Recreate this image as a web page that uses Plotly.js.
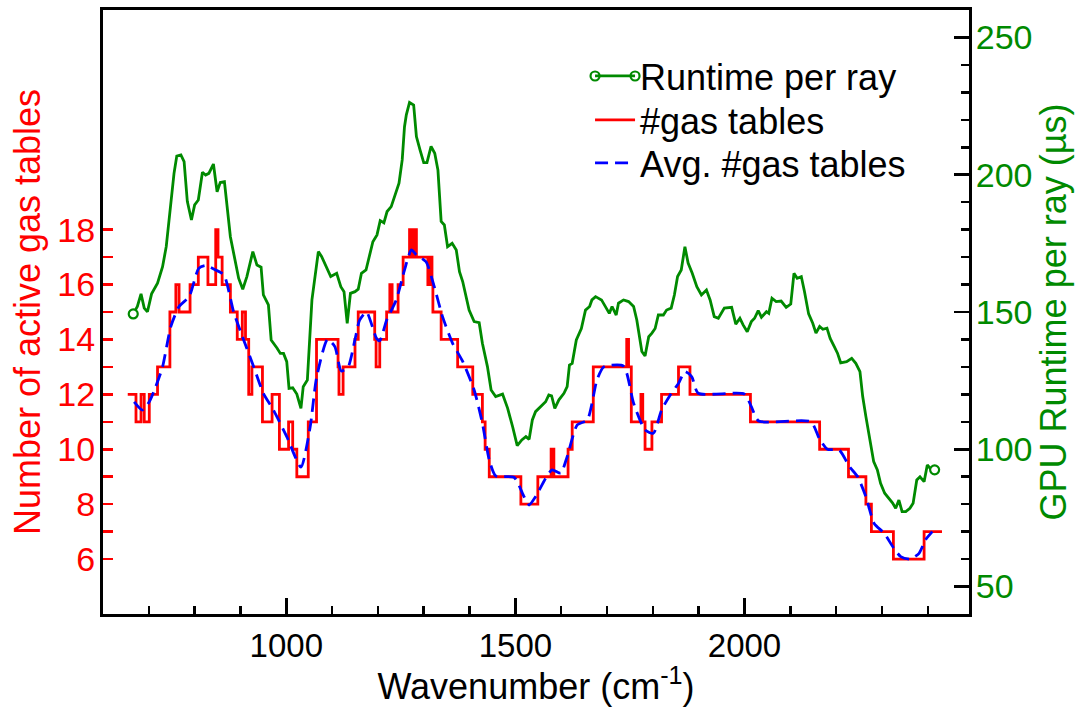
<!DOCTYPE html>
<html>
<head>
<meta charset="utf-8">
<script src="https://cdn.plot.ly/plotly-3.0.1.min.js"></script>
<style>
  html, body { margin: 0; padding: 0; background: #ffffff; }
  #chart { width: 1085px; height: 707px; }
</style>
</head>
<body>
<div id="chart"></div>
<script>
// Runtime per ray (GPU, microseconds) vs wavenumber (cm^-1)
const runtimeWn = [666,675,683,690,697,706,719,730,738,748,755,761,770,777,784,793,800,808,817,824,831,841,849,856,865,878,887,896,905,914,927,936,945,950,961,967,980,987,994,1001,1006,1014,1023,1032,1037,1046,1056,1063,1070,1077,1088,1097,1110,1119,1126,1133,1140,1150,1157,1164,1174,1182,1189,1198,1205,1213,1220,1229,1237,1246,1253,1258,1262,1269,1278,1284,1292,1300,1307,1316,1324,1331,1338,1345,1352,1362,1371,1378,1385,1392,1399,1410,1421,1428,1439,1447,1457,1472,1483,1494,1504,1514,1523,1530,1537,1544,1555,1566,1573,1579,1586,1595,1606,1613,1618,1624,1633,1644,1653,1662,1667,1675,1688,1696,1705,1711,1720,1725,1736,1747,1758,1765,1773,1776,1783,1791,1798,1805,1812,1823,1830,1840,1847,1854,1862,1870,1877,1886,1896,1906,1917,1925,1934,1943,1956,1972,1981,1990,1997,2006,2015,2022,2030,2037,2048,2053,2060,2069,2080,2091,2101,2108,2115,2124,2131,2140,2149,2156,2164,2171,2180,2187,2196,2203,2210,2223,2234,2243,2252,2258,2265,2272,2282,2290,2297,2306,2313,2323,2330,2337,2344,2352,2361,2368,2376,2383,2392,2399,2405,2415];
const runtimeUs = [149.3,152,156.6,151.4,150.1,156.6,160.5,166.5,173.8,188.4,200.5,206.8,207.2,204.8,190.3,183.5,189,190.8,200.9,199.9,200.5,203.9,193.8,197.2,197.5,177.4,170.2,162.3,158.3,162.9,172,167.1,166.3,156.2,152.6,139.8,136.8,134.9,134.9,131.9,122.2,122.4,120.1,114.9,122.8,125.2,154.4,162.9,172,170.2,166.5,162.9,164.1,159.2,157.4,145.9,156.8,157.4,158.3,164.1,165.3,171.4,175.6,178.1,183.3,182.5,186.6,188.4,192.6,196.9,205.4,217.5,221.8,226.3,225.4,213.9,209,204.4,204.4,210.3,207.8,201.7,183,181.7,173.8,175,172.6,164.7,161.1,155.6,150.7,146.5,146.1,138.6,130.1,121.6,119.2,120.1,115,108.2,101.3,103.4,104.6,103.6,110.7,113.7,115.5,117.3,119.8,119.5,114.9,118,120.4,122.8,130.7,131.3,139.8,144,150.7,152,154.4,155.6,154.4,152,149.5,152,148.9,153.2,154.4,153.8,152,147.1,139.8,135.6,134,141,142.3,144,148.9,148.9,150.7,151.4,156.2,162.9,165.3,173.8,167.8,164.1,159.2,156.2,158,154.4,148.3,147.7,151.4,151.7,145.6,147.7,145.3,142.8,146.5,147.7,150.5,148.1,150.1,149.5,155,153.8,154,151.7,152.9,164.1,162.3,162.9,157.4,149.3,145.9,142.3,144.7,143.7,144.1,140.4,137.4,135,131.5,131.9,133.1,131.3,128.3,119.2,111.9,104.6,95.5,92.5,87.6,84,82.7,80.5,78.5,81.5,77.3,77.3,78.5,80.3,88.8,90,88.2,94.3,93.1,92.5];

// Number of active gas tables (step function: value holds from each edge to the next)
const gasWn = [654,672,683,690,701,719,746,759,766,790,808,829,846,851,860,878,893,904,911,918,925,948,969,985,1005,1014,1023,1048,1066,1113,1115,1124,1150,1157,1193,1196,1204,1219,1226,1231,1244,1255,1269,1275,1278,1284,1309,1313,1318,1320,1338,1374,1407,1428,1434,1443,1512,1549,1578,1584,1615,1624,1670,1743,1747,1753,1774,1778,1783,1798,1819,1856,1881,2013,2164,2227,2265,2277,2325,2392,2431];
const gasN  = [12,11,12,11,12,13,15,16,15,16,17,16,18,17,16,15,14,15,14,12,13,11,12,10,11,10,9,11,14,13,12,13,14,15,14,13,14,15,16,15,16,17,18,17,18,17,16,17,16,15,14,13,12,11,10,9,8,9,10,9,10,11,13,14,13,11,12,11,10,11,12,13,12,11,10,9,8,7,6,7,7];

// Averaged number of active gas tables
const avgWn = [668,686,701,715,730,748,766,788,809,824,846,864,885,907,929,950,972,1001,1032,1052,1066,1090,1106,1120,1135,1150,1160,1175,1197,1204,1219,1240,1258,1273,1284,1305,1323,1341,1363,1385,1410,1428,1443,1457,1497,1519,1530,1544,1566,1580,1599,1613,1635,1657,1678,1693,1736,1758,1783,1801,1819,1838,1856,1870,1885,1899,2000,2015,2031,2145,2163,2181,2207,2229,2247,2265,2283,2305,2326,2341,2362,2381,2395,2410];
const avgN  = [11.73,11.43,11.73,12.28,13.0,14.47,15.2,15.56,16.59,16.69,16.53,16.35,15.01,13.98,13.0,12.04,11.43,10.46,9.35,10.8,12.6,14.0,13.74,12.85,13.0,14.0,14.7,15.0,14.04,13.95,14.7,15.44,16.53,17.26,17.08,16.83,15.92,14.83,13.86,13.2,12.16,10.95,9.61,9.03,8.98,8.27,7.97,8.27,8.94,9.25,9.13,9.73,10.89,11.07,12.52,13.0,13.03,11.68,10.7,10.58,11.43,11.98,12.4,12.83,12.64,12.04,12.01,11.55,11.03,11.0,10.4,10.0,9.97,9.37,9.0,8.27,7.3,6.94,6.39,6.09,6.0,6.21,6.7,7.0];

// Tick values
const xMajorTicks = [1000, 1500, 2000];
const leftMajorTicks = [6, 8, 10, 12, 14, 16, 18];
const leftMinorTicks = [7, 9, 11, 13, 15, 17];
const rightMajorTicks = [50, 100, 150, 200, 250];

const FONT = '"Liberation Sans", Arial, Helvetica, sans-serif';
const RED = '#ff0000';
const GREEN = '#008a00';
const BLUE = '#0000ff';

const LEG_X = 0.5624;
const LEG_Y = [0.8907, 0.8179, 0.7467];
const LEG_ITEMW = 40;

const traces = [
  {
    x: runtimeWn, y: runtimeUs, yaxis: 'y2', legend: 'legend',
    type: 'scatter', mode: 'lines', name: 'Runtime per ray',
    line: { color: GREEN, width: 2.8 }
  },
  {
    x: gasWn, y: gasN, yaxis: 'y', legend: 'legend2',
    type: 'scatter', mode: 'lines', name: '#gas tables',
    line: { color: RED, width: 2.8, shape: 'hv' }
  },
  {
    x: avgWn, y: avgN, yaxis: 'y', legend: 'legend3',
    type: 'scatter', mode: 'lines', name: 'Avg. #gas tables',
    line: { color: BLUE, width: 2.8, dash: '13px,7px', shape: 'spline', smoothing: 0.6 }
  },
  {
    x: [runtimeWn[0], runtimeWn[runtimeWn.length - 1]],
    y: [runtimeUs[0], runtimeUs[runtimeUs.length - 1]],
    yaxis: 'y2', type: 'scatter', mode: 'markers', showlegend: false,
    hoverinfo: 'skip',
    marker: { symbol: 'circle', size: 9, color: '#ffffff', line: { color: GREEN, width: 2.2 } }
  }
];

function legendBox(yv) {
  return {
    x: LEG_X, y: yv, xanchor: 'left', yanchor: 'middle',
    bgcolor: 'rgba(0,0,0,0)', borderwidth: 0,
    font: { family: FONT, size: 36, color: '#000000' },
    itemwidth: LEG_ITEMW, tracegroupgap: 0
  };
}

// small open circles at the ends of the "Runtime per ray" legend line
function legendCircle(offsetPx) {
  return {
    type: 'circle', xref: 'paper', yref: 'paper', layer: 'above',
    xsizemode: 'pixel', ysizemode: 'pixel',
    xanchor: LEG_X, yanchor: LEG_Y[0],
    x0: offsetPx - 4.5, x1: offsetPx + 4.5, y0: -4.5, y1: 4.5,
    line: { color: GREEN, width: 2.2 }, fillcolor: '#ffffff'
  };
}

const layout = {
  width: 1085, height: 707,
  margin: { l: 103, r: 116, t: 10, b: 93, pad: 0 },
  paper_bgcolor: '#ffffff', plot_bgcolor: '#ffffff',
  font: { family: FONT, size: 33, color: '#000000' },
  showlegend: true,
  legend: legendBox(LEG_Y[0]),
  legend2: legendBox(LEG_Y[1]),
  legend3: legendBox(LEG_Y[2]),
  shapes: [legendCircle(5), legendCircle(5 + LEG_ITEMW)],
  xaxis: {
    range: [600, 2490], showgrid: false, zeroline: false,
    showline: true, linecolor: '#000000', linewidth: 3, mirror: true,
    tickmode: 'array', tickvals: xMajorTicks,
    ticks: 'inside', ticklen: 16, tickwidth: 2.5, tickcolor: '#000000',
    minor: { tickmode: 'linear', tick0: 600, dtick: 100, ticks: 'inside', ticklen: 8, tickwidth: 2.5, tickcolor: '#000000', showgrid: false },
    tickfont: { family: FONT, size: 33, color: '#000000' },
    title: { text: 'Wavenumber (cm<sup>-1</sup>)', font: { family: FONT, size: 36, color: '#000000' }, standoff: 6 }
  },
  yaxis: {
    range: [4, 26], showgrid: false, zeroline: false,
    showline: true, linecolor: '#000000', linewidth: 3,
    tickmode: 'array', tickvals: leftMajorTicks,
    ticks: 'inside', ticklen: 10, tickwidth: 2.5, tickcolor: RED,
    ticklabelstandoff: -2,
    minor: { tickmode: 'array', tickvals: leftMinorTicks, ticks: 'inside', ticklen: 10, tickwidth: 2.5, tickcolor: RED, showgrid: false },
    tickfont: { family: FONT, size: 34, color: RED },
    title: { text: 'Number of active gas tables', font: { family: FONT, size: 36, color: RED }, standoff: 6 }
  },
  yaxis2: {
    overlaying: 'y', side: 'right', anchor: 'x',
    range: [40, 260], showgrid: false, zeroline: false,
    showline: true, linecolor: '#000000', linewidth: 3,
    tickmode: 'array', tickvals: rightMajorTicks,
    ticks: 'inside', ticklen: 15, tickwidth: 2.5, tickcolor: '#000000',
    ticklabelstandoff: -3,
    minor: { tickmode: 'linear', tick0: 40, dtick: 10, ticks: 'inside', ticklen: 8, tickwidth: 2.5, tickcolor: '#000000', showgrid: false },
    tickfont: { family: FONT, size: 34, color: GREEN },
    title: { text: 'GPU Runtime per ray (\u00b5s)', font: { family: FONT, size: 36, color: GREEN }, standoff: 6 }
  }
};

Plotly.newPlot('chart', traces, layout, { displayModeBar: false, responsive: false, staticPlot: true });
</script>
</body>
</html>
